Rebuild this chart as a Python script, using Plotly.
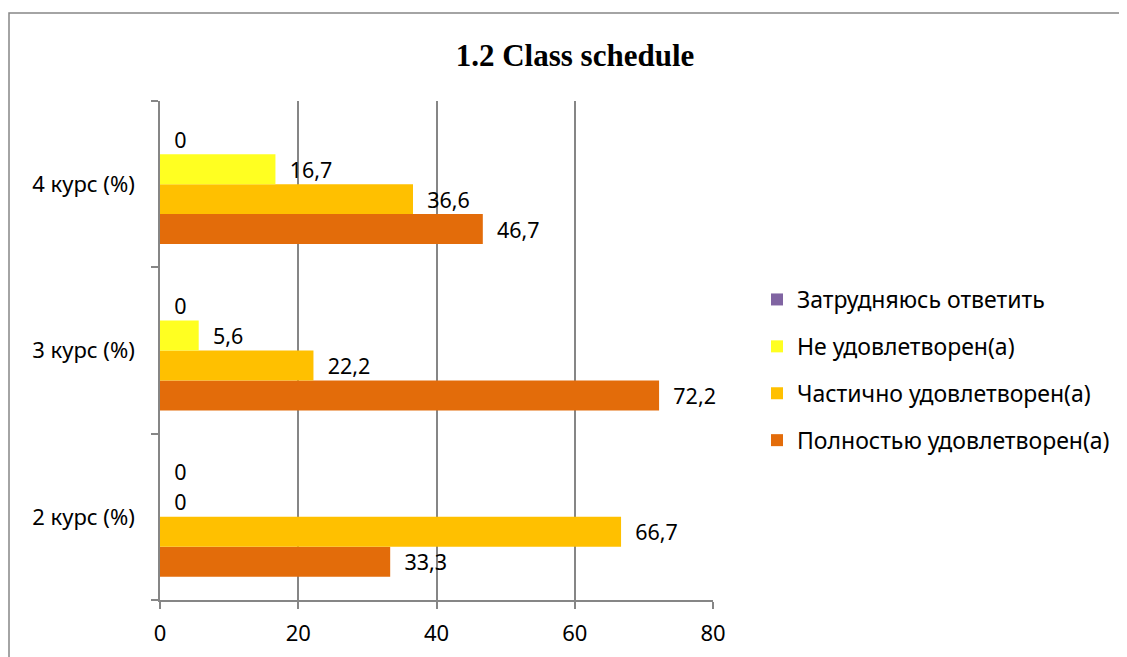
import plotly.graph_objects as go

categories = ["2 курс (%)", "3 курс (%)", "4 курс (%)"]
series_names = ["Полностью удовлетворен(а)", "Частично удовлетворен(а)",
                "Не удовлетворен(а)", "Затрудняюсь ответить"]
full = [33.3, 72.2, 46.7]
partial = [66.7, 22.2, 36.6]
not_sat = [0, 5.6, 16.7]
hard = [0, 0, 0]
values = [full, partial, not_sat, hard]
colors = ["#E36C0A", "#FFC000", "#FFFF21", "#8064A2"]
legend_ranks = [4, 3, 2, 1]
x_ticks = [0, 20, 40, 60, 80]

FONT = "Noto Sans"
NB = "\u00a0"

def fmt(v):
    s = ("%g" % v).replace(".", ",")
    return NB * 2 + s

fig = go.Figure()
for name, vals, col, rank in zip(series_names, values, colors, legend_ranks):
    fig.add_trace(go.Bar(
        y=categories, x=vals, name=name, orientation="h",
        marker=dict(color=col, line=dict(width=0)),
        text=[fmt(v) for v in vals], textposition="outside",
        textfont=dict(family=FONT, size=23, color="black"),
        cliponaxis=False, legendgroup=name, legendrank=rank,
    ))

# page body has an 8px margin; work in window pixels, then shift
OFF = 8
W, H = 1127 - OFF, 657 - OFF
L, R, T, B = 160 - OFF, 713 - OFF, 101 - OFF, 600 - OFF
fig.update_layout(
    width=W, height=H,
    margin=dict(l=L, r=W - R, t=T, b=H - B, autoexpand=False),
    paper_bgcolor="white", plot_bgcolor="white",
    barmode="group", bargap=0.28, bargroupgap=0,
    font=dict(family=FONT, size=23, color="black"),
    title=dict(text="<b>1.2 Class schedule</b>", x=(575 - OFF) / W,
               y=1 - (55 - OFF) / H, xanchor="center", yanchor="middle",
               font=dict(family="Liberation Serif", size=31, color="black")),
    legend=dict(x=(757 - OFF - L) / (R - L), y=(B - (278 - OFF)) / (B - T),
                xanchor="left", yanchor="top",
                traceorder="grouped", tracegroupgap=14,
                font=dict(family=FONT, size=23), itemwidth=30,
                bgcolor="rgba(0,0,0,0)"),
    xaxis=dict(range=[0, 80], tickvals=x_ticks, showgrid=True,
               gridcolor="#868686", gridwidth=1.5, showline=True,
               linecolor="#868686", linewidth=1.5, ticks="outside",
               ticklen=7, tickcolor="#868686", tickwidth=1.5,
               zeroline=False, tickfont=dict(size=22), ticklabelstandoff=6),
    yaxis=dict(type="category", showline=True, linecolor="#868686",
               linewidth=1.5, ticks="outside", tickson="boundaries",
               ticklen=7, tickcolor="#868686", tickwidth=1.5,
               showgrid=False, ticklabelstandoff=19, tickfont=dict(size=22)),
    shapes=[dict(type="rect", xref="paper", yref="paper",
                 x0=(9 - OFF - L) / (R - L), x1=(1140 - OFF - L) / (R - L),
                 y0=(B - 680) / (B - T), y1=(B - (13 - OFF)) / (B - T),
                 line=dict(color="#868686", width=1.5), layer="below")],
)

fig.write_html("out.html")
